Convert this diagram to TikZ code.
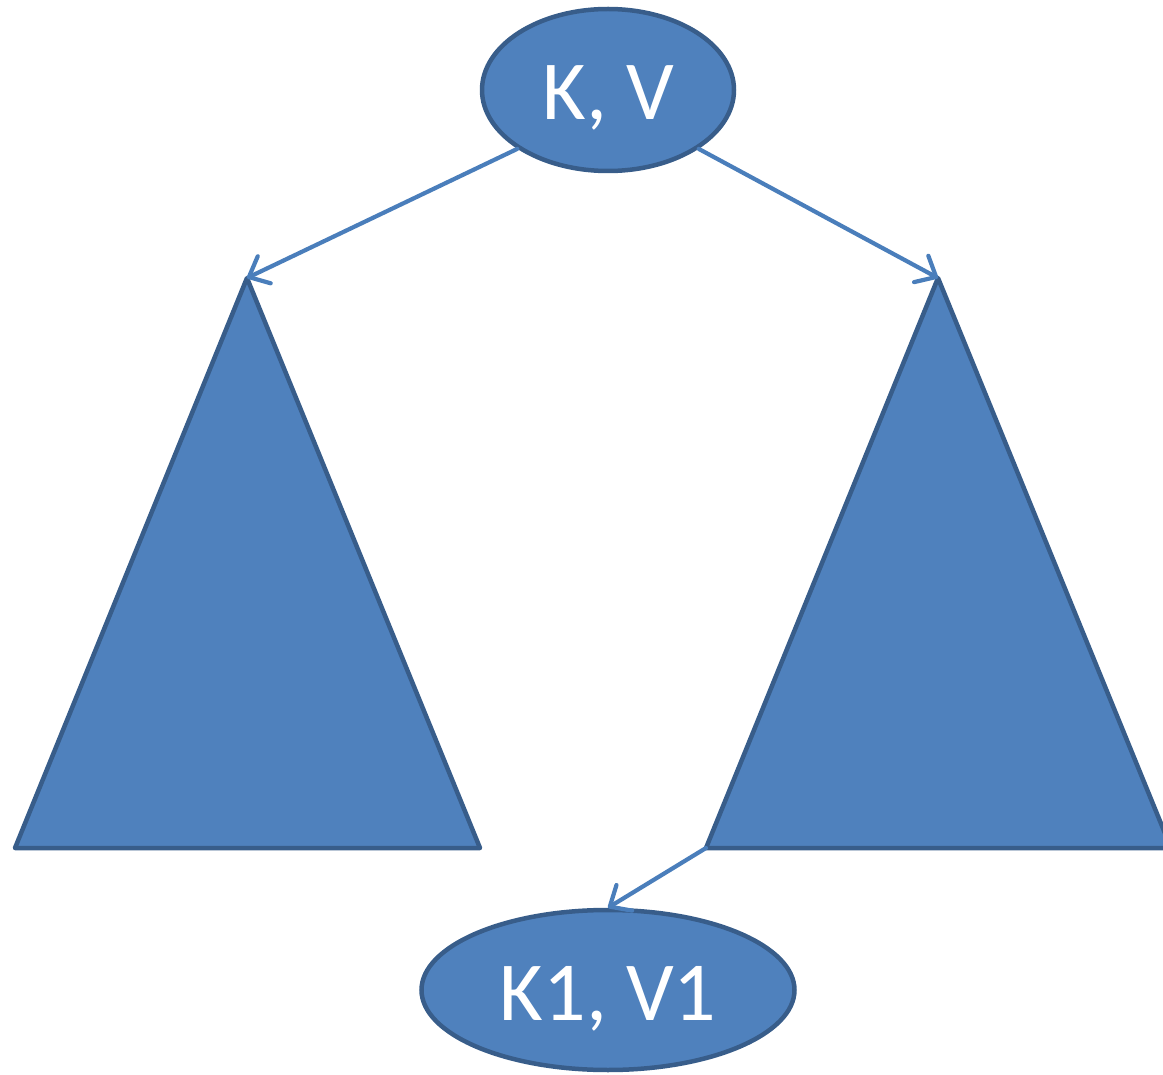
\documentclass[tikz,border=0pt]{standalone}
\usepackage{fontspec}
\setmainfont{Carlito}
\usetikzlibrary{shapes.geometric,arrows.meta}
\definecolor{nodefill}{HTML}{4F81BD}
\definecolor{nodeline}{HTML}{385D8A}
\definecolor{linkline}{HTML}{4A7EBB}
\begin{document}
\begin{tikzpicture}[x=1pt, y=-1pt,
    keyval/.style={ellipse, draw=nodeline, fill=nodefill, line width=4.5pt, text=white,
      font=\fontsize{84}{92}\selectfont, text height=60pt, text depth=0pt, inner sep=0pt},
    subtree/.style={draw=nodeline, fill=nodefill, line width=4.5pt, line join=round},
    link/.style={draw=linkline, line width=4.2pt, line cap=round,
      -{Straight Barb[length=17pt, width=30pt, line cap=round, line join=round]}}]
  \useasboundingbox (0,0) rectangle (1163,1075);
  % root, the two subtrees and the new pair below the right one
  \node[keyval, minimum width=252, minimum height=162] (root) at (608,90) {K, V};
  \node[keyval, minimum width=373, minimum height=160] (leaf) at (608,990) {K1, V1};
  \foreach \name/\x in {lefttree/247, righttree/938} {
    \coordinate (\name-top) at (\x,278);
    \coordinate (\name-bl) at (\x-232,848);
    \coordinate (\name-br) at (\x+233,848);
    \path[subtree] (\name-top) -- (\name-br) -- (\name-bl) -- cycle;
  }
  \draw[link] (root.south west) -- (lefttree-top);
  \draw[link] (root.south east) -- (righttree-top);
  \draw[link] (righttree-bl) -- (leaf.north);
\end{tikzpicture}
\end{document}
